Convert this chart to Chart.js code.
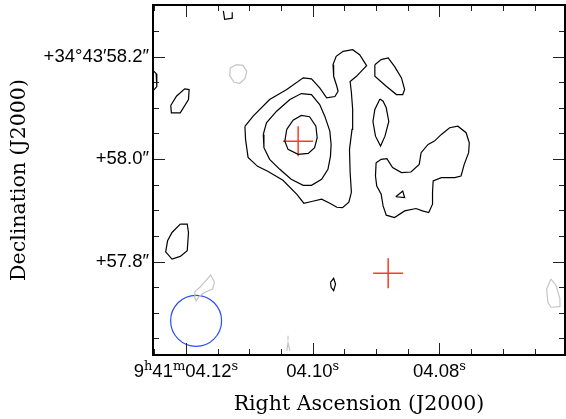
<!DOCTYPE html>
<html>
<head>
<meta charset="utf-8">
<script src="https://cdn.jsdelivr.net/npm/chart.js@4.4.1/dist/chart.umd.min.js"></script>
<style>
html, body { margin: 0; padding: 0; background: #fff; }
canvas { display: block; }
</style>
</head>
<body>
<canvas id="contourChart" width="566" height="419"></canvas>
<script>
// RA in seconds past 9h41m, Dec in arcsec past +34d43m
const raRange = [4.0602, 4.1252];
const decRange = [57.6177, 58.3006];
const raMajor = [4.12, 4.10, 4.08];
const raLabels = ['9^h41^m04.12^s', '04.10^s', '04.08^s'];
const decMajor = [58.2, 58.0, 57.8];
const decLabels = ['+34°43′58.2″', '+58.0″', '+57.8″'];

// black contours
const outerContour = [[4.1107,58.0636],[4.1106,58.0383],[4.1102,58.0033],[4.1087,57.9858],[4.1071,57.9761],[4.1047,57.9586],[4.1025,57.9313],[4.1014,57.9138],[4.1000,57.9177],[4.0986,57.9216],[4.0973,57.9138],[4.0962,57.9060],[4.0953,57.9051],[4.0943,57.9158],[4.0939,57.9352],[4.0941,57.9741],[4.0942,58.0189],[4.0938,58.0578],[4.0937,58.0967],[4.0939,58.1298],[4.0941,58.1512],[4.0931,58.1615],[4.0921,58.1745],[4.0915,58.1823],[4.0918,58.1881],[4.0926,58.2037],[4.0937,58.2134],[4.0952,58.2101],[4.0963,58.2004],[4.0968,58.1842],[4.0967,58.1615],[4.0962,58.1420],[4.0960,58.1323],[4.0965,58.1220],[4.0978,58.1195],[4.0989,58.1389],[4.1002,58.1564],[4.1015,58.1584],[4.1041,58.1356],[4.1068,58.1161],[4.1094,58.0837]];
const middleContour = [[4.1078,58.0481],[4.1077,58.0222],[4.1068,57.9994],[4.1052,57.9800],[4.1034,57.9605],[4.1015,57.9488],[4.1002,57.9488],[4.0986,57.9605],[4.0976,57.9800],[4.0972,58.0058],[4.0971,58.0286],[4.0973,58.0545],[4.0981,58.0837],[4.0989,58.1064],[4.1002,58.1259],[4.1018,58.1278],[4.1036,58.1161],[4.1057,58.0934],[4.1073,58.0708]];
const innerContour = [[4.1041,58.0578],[4.1044,58.0350],[4.1039,58.0189],[4.1023,58.0091],[4.1007,58.0111],[4.0997,58.0222],[4.0993,58.0416],[4.0995,58.0642],[4.1005,58.0825],[4.1018,58.0850],[4.1031,58.0759]];
const northLobe = [[4.0902,58.1842],[4.0892,58.1940],[4.0881,58.1973],[4.0871,58.1809],[4.0860,58.1584],[4.0855,58.1356],[4.0858,58.1259],[4.0868,58.1259],[4.0884,58.1420],[4.0902,58.1615]];
const thinLobe = [[4.0894,58.1171],[4.0902,58.0967],[4.0905,58.0733],[4.0901,58.0447],[4.0893,58.0253],[4.0886,58.0447],[4.0880,58.0733],[4.0884,58.1000],[4.0889,58.1128]];
const eastBlob = [[4.0900,57.9930],[4.0892,57.9994],[4.0883,58.0008],[4.0874,57.9833],[4.0860,57.9735],[4.0845,57.9747],[4.0832,57.9897],[4.0829,58.0125],[4.0818,58.0286],[4.0808,58.0350],[4.0797,58.0481],[4.0784,58.0611],[4.0771,58.0642],[4.0758,58.0514],[4.0753,58.0319],[4.0754,58.0125],[4.0761,57.9897],[4.0766,57.9669],[4.0776,57.9638],[4.0797,57.9638],[4.0810,57.9572],[4.0811,57.9346],[4.0811,57.9119],[4.0817,57.8957],[4.0827,57.8988],[4.0837,57.9035],[4.0855,57.8988],[4.0871,57.8860],[4.0884,57.8905],[4.0889,57.9086],[4.0892,57.9313],[4.0899,57.9475],[4.0901,57.9669]];
const eastHole = [[4.0869,57.9265],[4.0858,57.9377],[4.0855,57.9249]];
const westSmall = [[4.1224,58.1045],[4.1223,58.0903],[4.1209,58.0903],[4.1196,58.1161],[4.1195,58.1356],[4.1202,58.1370],[4.1215,58.1226]];
const westLower = [[4.1209,57.8730],[4.1198,57.8730],[4.1196,57.8568],[4.1198,57.8210],[4.1209,57.8101],[4.1222,57.8049],[4.1232,57.8191],[4.1229,57.8405],[4.1222,57.8568]];
const topHook = [[4.1141,58.2893],[4.1139,58.2728],[4.1126,58.2751],[4.1127,58.2864]];
const southSpeck = [[4.0972,57.7595],[4.0967,57.7673],[4.0964,57.7562],[4.0967,57.7432],[4.0971,57.7498]];
const edgePiece = [[4.1251,58.1716],[4.1247,58.1667],[4.1246,58.1414],[4.1251,58.1346]];

// grey (negative) contours
const negNorth = [[4.1121,58.1842],[4.1110,58.1829],[4.1104,58.1712],[4.1107,58.1570],[4.1115,58.1479],[4.1124,58.1498],[4.1131,58.1628],[4.1130,58.1778]];
const negBeam = [[4.1187,57.7323],[4.1186,57.7413],[4.1178,57.7498],[4.1161,57.7737],[4.1155,57.7595],[4.1158,57.7465],[4.1170,57.7401],[4.1179,57.7323],[4.1184,57.7237]];
const negEast = [[4.0624,57.7660],[4.0631,57.7465],[4.0629,57.7206],[4.0624,57.7109],[4.0611,57.7121],[4.0610,57.7271],[4.0616,57.7529]];
const negSouthA = [[4.1039,57.6551],[4.1039,57.6473]];
const negSouthB = [[4.1041,57.6259],[4.1039,57.6414],[4.1036,57.6259]];

// markers
const crossPositions = [[4.1023,58.035],[4.0881,57.7772]];
const beamCentre = [[4.1184,57.6844]];

function toPoints(arr, closed) {
    const pts = arr.map(p => ({ x: p[0], y: p[1] }));
    if (closed) pts.push({ x: arr[0][0], y: arr[0][1] });
    return pts;
}

function contour(arr, colour, closed) {
    return {
        data: toPoints(arr, closed),
        showLine: true,
        borderColor: colour,
        borderWidth: 1.2,
        pointRadius: 0,
        fill: false,
        tension: 0
    };
}

const black = '#000000';
const grey = '#c4c4c4';

const frameAndTicks = {
    id: 'frameAndTicks',
    afterDatasetsDraw(chart) {
        const ctx = chart.ctx;
        const a = chart.chartArea;
        const xs = chart.scales.x;
        const ys = chart.scales.y;
        ctx.save();

        // minor + major ticks, pointing inward on all four sides
        ctx.strokeStyle = '#222';
        ctx.lineWidth = 1;
        const isMajor = (v, majors) => majors.some(m => Math.abs(m - v) < 1e-6);
        for (let k = Math.ceil(raRange[0] / 0.005); k <= Math.floor(raRange[1] / 0.005); k++) {
            const v = k * 0.005;
            const px = Math.round(xs.getPixelForValue(v)) + 0.5;
            const len = isMajor(v, raMajor) ? 12 : 6;
            ctx.beginPath();
            ctx.moveTo(px, a.bottom); ctx.lineTo(px, a.bottom - len);
            ctx.moveTo(px, a.top); ctx.lineTo(px, a.top + len);
            ctx.stroke();
        }
        for (let k = Math.ceil(decRange[0] / 0.05); k <= Math.floor(decRange[1] / 0.05); k++) {
            const v = k * 0.05;
            const py = Math.round(ys.getPixelForValue(v)) + 0.5;
            const len = isMajor(v, decMajor) ? 12 : 6;
            ctx.beginPath();
            ctx.moveTo(a.left, py); ctx.lineTo(a.left + len, py);
            ctx.moveTo(a.right, py); ctx.lineTo(a.right - len, py);
            ctx.stroke();
        }

        // frame
        ctx.strokeStyle = '#000';
        ctx.lineWidth = 2;
        ctx.strokeRect(a.left, a.top, a.right - a.left, a.bottom - a.top);

        // RA tick labels with superscript units
        const base = '18.5px "Liberation Sans"';
        const sup = '13px "DejaVu Serif"';
        ctx.fillStyle = '#000';
        ctx.textBaseline = 'alphabetic';
        ctx.textAlign = 'left';
        raMajor.forEach((v, i) => {
            const parts = raLabels[i].split(/(\^.)/).filter(s => s.length);
            let total = 0;
            parts.forEach(p => {
                ctx.font = p[0] === '^' ? sup : base;
                total += ctx.measureText(p[0] === '^' ? p.slice(1) : p).width;
            });
            let cx = xs.getPixelForValue(v) - total / 2;
            parts.forEach(p => {
                const isSup = p[0] === '^';
                const txt = isSup ? p.slice(1) : p;
                ctx.font = isSup ? sup : base;
                ctx.fillText(txt, cx, isSup ? 370 : 377);
                cx += ctx.measureText(txt).width;
            });
        });

        // Dec tick labels
        ctx.font = '18.5px "Liberation Sans"';
        ctx.textAlign = 'right';
        ctx.textBaseline = 'middle';
        decMajor.forEach((v, i) => {
            ctx.fillText(decLabels[i], a.left - 4, ys.getPixelForValue(v));
        });

        // axis titles
        ctx.font = '20.5px "DejaVu Serif"';
        ctx.textAlign = 'center';
        ctx.textBaseline = 'alphabetic';
        ctx.fillText('Right Ascension (J2000)', (a.left + a.right) / 2, 410);
        ctx.translate(25, (a.top + a.bottom) / 2);
        ctx.rotate(-Math.PI / 2);
        ctx.fillText('Declination (J2000)', 0, 0);
        ctx.restore();
    }
};

new Chart(document.getElementById('contourChart').getContext('2d'), {
    type: 'scatter',
    data: {
        datasets: [
            contour(outerContour, black, true),
            contour(middleContour, black, true),
            contour(innerContour, black, true),
            contour(northLobe, black, true),
            contour(thinLobe, black, true),
            contour(eastBlob, black, true),
            contour(eastHole, black, true),
            contour(westSmall, black, true),
            contour(westLower, black, true),
            contour(topHook, black, false),
            contour(southSpeck, black, true),
            contour(edgePiece, black, false),
            contour(negNorth, grey, true),
            contour(negBeam, grey, true),
            contour(negEast, grey, true),
            contour(negSouthA, grey, false),
            contour(negSouthB, grey, false),
            {
                data: toPoints(crossPositions, false),
                showLine: false,
                pointStyle: 'cross',
                pointRadius: 15,
                borderColor: '#ff3b24',
                borderWidth: 1.5
            },
            {
                data: toPoints(beamCentre, false),
                showLine: false,
                pointStyle: 'circle',
                pointRadius: 25.5,
                borderColor: '#2a4cff',
                backgroundColor: 'rgba(0,0,0,0)',
                borderWidth: 1.2
            }
        ]
    },
    options: {
        responsive: false,
        animation: false,
        events: [],
        layout: { autoPadding: false, padding: { left: 153, top: 5, right: 1, bottom: 64 } },
        plugins: {
            legend: { display: false },
            tooltip: { enabled: false }
        },
        scales: {
            x: { type: 'linear', min: raRange[0], max: raRange[1], reverse: true, display: false },
            y: { type: 'linear', min: decRange[0], max: decRange[1], display: false }
        }
    },
    plugins: [frameAndTicks]
});
</script>
</body>
</html>
